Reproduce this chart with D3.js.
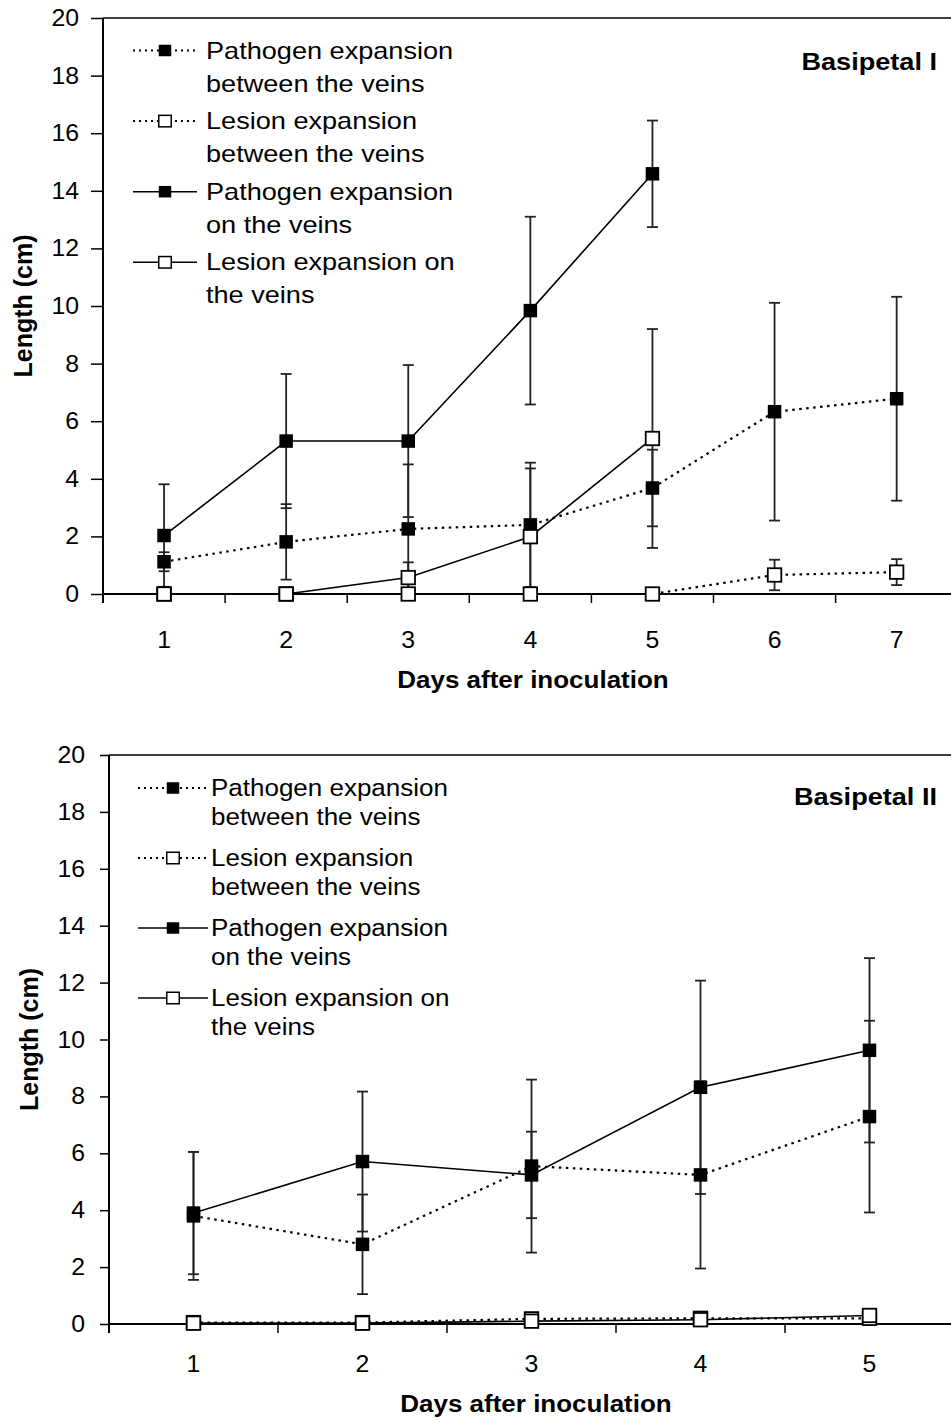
<!DOCTYPE html>
<html>
<head>
<meta charset="utf-8">
<script src="https://cdn.jsdelivr.net/npm/d3@7"></script>
<style>
  html, body { margin: 0; padding: 0; background: #fff; }
  svg { display: block; font-family: "Liberation Sans", Arial, sans-serif; }
</style>
</head>
<body>
<svg id="chart" width="951" height="1422"></svg>
<script>
// ---- Basipetal I ----
const daysI = [1, 2, 3, 4, 5, 6, 7];
const pathogenBetweenI    = [1.12, 1.81, 2.26, 2.40, 3.68, 6.33, 6.78];
const pathogenBetweenErrI = [0.33, 1.31, 2.24, 2.16, 1.33, 3.78, 3.54];
const lesionBetweenI      = [0, 0, 0, 0, 0, 0.66, 0.76];
const lesionBetweenErrI   = [0, 0, 0, 0, 0, 0.53, 0.45];
const pathogenVeinsI      = [2.03, 5.31, 5.31, 9.84, 14.59];
const pathogenVeinsErrI   = [1.78, 2.33, 2.64, 3.26, 1.85];
const lesionVeinsI        = [0, 0, 0.57, 1.99, 5.40];
const lesionVeinsErrI     = [0, 0, 0.53, 2.37, 3.80];

// ---- Basipetal II ----
const daysII = [1, 2, 3, 4, 5];
const pathogenBetweenII    = [3.80, 2.80, 5.55, 5.24, 7.29];
const pathogenBetweenErrII = [2.25, 1.75, 3.04, 3.29, 3.37];
const lesionBetweenII      = [0.05, 0.05, 0.18, 0.20, 0.20];
const lesionBetweenErrII   = [0, 0, 0, 0, 0];
const pathogenVeinsII      = [3.90, 5.71, 5.24, 8.32, 9.62];
const pathogenVeinsErrII   = [2.15, 2.46, 1.52, 3.75, 3.24];
const lesionVeinsII        = [0.03, 0.03, 0.10, 0.15, 0.30];
const lesionVeinsErrII     = [0, 0, 0, 0, 0];

const yTicks = [0, 2, 4, 6, 8, 10, 12, 14, 16, 18, 20];
const legendLabels = [
  ["Pathogen expansion", "between the veins"],
  ["Lesion expansion", "between the veins"],
  ["Pathogen expansion", "on the veins"],
  ["Lesion expansion on", "the veins"]
];
const legendStyles = [
  { dotted: true,  filled: true },
  { dotted: true,  filled: false },
  { dotted: false, filled: true },
  { dotted: false, filled: false }
];
const xTitle = "Days after inoculation";
const yTitle = "Length (cm)";

const svg = d3.select("#chart");
const SX = 1.13; // horizontal text stretch

function stretchedText(g, x, y, str, opts) {
  return g.append("text")
    .attr("transform", `translate(${x},${y}) scale(${opts.sx || SX},1)`)
    .attr("font-size", opts.size)
    .attr("font-weight", opts.bold ? "bold" : "normal")
    .attr("text-anchor", opts.anchor || "start")
    .attr("fill", "#000")
    .text(str);
}

function drawPanel(cfg) {
  const g = svg.append("g");
  const x = d3.scaleBand().domain(cfg.days).range([cfg.left, cfg.left + cfg.band * cfg.days.length]);
  const y = d3.scaleLinear().domain([0, 20]).range([cfg.bottom, cfg.top]);
  const cx = d => x(d) + x.bandwidth() / 2;

  const clipId = "clip" + cfg.id;
  svg.append("clipPath").attr("id", clipId)
    .append("rect").attr("x", cfg.left).attr("y", cfg.top - 20)
    .attr("width", 951 - cfg.left).attr("height", cfg.bottom - cfg.top + 20);

  // plot border (top edge)
  g.append("line").attr("x1", cfg.left).attr("x2", 951)
    .attr("y1", cfg.top).attr("y2", cfg.top)
    .attr("stroke", "#000").attr("stroke-width", 1.5);

  // y axis
  const yAxis = d3.axisLeft(y).tickValues(yTicks).tickSize(cfg.yTick).tickFormat(d3.format("d"));
  const ya = g.append("g").attr("transform", `translate(${cfg.left},0)`).call(yAxis);
  ya.select(".domain").attr("stroke", "#000").attr("stroke-width", 2)
    .attr("d", `M0,${cfg.top}V${cfg.bottom + cfg.xTick}`);
  ya.selectAll(".tick line").attr("stroke", "#000").attr("stroke-width", 1.5);
  ya.selectAll(".tick text").remove();
  yTicks.forEach(v => {
    stretchedText(g, cfg.yLabelRight, y(v) + 8, String(v), { size: 23, anchor: "end", sx: 1.08 });
  });

  // x axis (ticks at band boundaries)
  g.append("line").attr("x1", cfg.left).attr("x2", 951)
    .attr("y1", cfg.bottom).attr("y2", cfg.bottom)
    .attr("stroke", "#000").attr("stroke-width", 2);
  const bounds = cfg.days.map(d => x(d)).concat([x(cfg.days[cfg.days.length - 1]) + x.bandwidth()]);
  g.selectAll(".xtick").data(bounds).join("line")
    .attr("x1", d => d).attr("x2", d => d)
    .attr("y1", cfg.bottom).attr("y2", cfg.bottom + cfg.xTick)
    .attr("stroke", "#000").attr("stroke-width", 1.5);
  cfg.days.forEach(d => {
    stretchedText(g, cx(d), cfg.xLabelY, String(d), { size: 23, anchor: "middle", sx: 1.08 });
  });

  // axis titles
  stretchedText(g, (cfg.left + 951) / 2 + 6, cfg.xTitleY, xTitle, { size: 23, bold: true, anchor: "middle" });
  g.append("text")
    .attr("transform", `translate(${cfg.yTitleX},${(cfg.top + cfg.bottom) / 2}) rotate(-90) scale(1,1.05)`)
    .attr("font-size", 25).attr("font-weight", "bold").attr("text-anchor", "middle")
    .text(yTitle);

  // panel name
  stretchedText(g, 937, cfg.nameY, cfg.name, { size: 24, bold: true, anchor: "end" });

  // series
  const plot = g.append("g").attr("clip-path", `url(#${clipId})`);
  const line = d3.line().x(d => cx(d.day)).y(d => y(d.v));
  const MS = 13.5;

  cfg.series.forEach(s => {
    const pts = s.values.map((v, i) => ({ day: cfg.days[i], v, e: s.errs[i] }));
    plot.append("path").datum(pts)
      .attr("d", line).attr("fill", "none").attr("stroke", "#000")
      .attr("stroke-width", s.dotted ? 2.2 : 1.6)
      .attr("stroke-dasharray", s.dotted ? "2.5,4.5" : null);

    const eb = plot.append("g").attr("stroke", "#222").attr("stroke-width", 1.8);
    pts.filter(p => p.e > 0).forEach(p => {
      const xx = cx(p.day), y1 = y(p.v + p.e), y0 = y(p.v - p.e);
      eb.append("line").attr("x1", xx).attr("x2", xx).attr("y1", y1).attr("y2", y0);
      eb.append("line").attr("x1", xx - 5.5).attr("x2", xx + 5.5).attr("y1", y1).attr("y2", y1);
      eb.append("line").attr("x1", xx - 5.5).attr("x2", xx + 5.5).attr("y1", y0).attr("y2", y0);
    });

    g.selectAll(null).data(pts).join("rect")
      .attr("x", d => cx(d.day) - MS / 2).attr("y", d => y(d.v) - MS / 2)
      .attr("width", MS).attr("height", MS)
      .attr("fill", s.filled ? "#000" : "#fff")
      .attr("stroke", "#000").attr("stroke-width", s.filled ? 0 : 1.8);
  });

  // legend
  legendLabels.forEach((lab, i) => {
    const st = legendStyles[i];
    const my = cfg.legend.y0 + i * cfg.legend.step;
    g.append("line").attr("x1", cfg.legend.x1).attr("x2", cfg.legend.x2)
      .attr("y1", my).attr("y2", my).attr("stroke", "#000")
      .attr("stroke-width", st.dotted ? 2 : 1.5)
      .attr("stroke-dasharray", st.dotted ? "2,4" : null);
    const mx = (cfg.legend.x1 + cfg.legend.x2) / 2;
    const lw = 12.5, lh = 11.5;
    g.append("rect").attr("x", mx - lw / 2).attr("y", my - lh / 2)
      .attr("width", lw).attr("height", lh)
      .attr("fill", st.filled ? "#000" : "#fff")
      .attr("stroke", "#000").attr("stroke-width", st.filled ? 0 : 1.5);
    stretchedText(g, cfg.legend.tx, my + 8, lab[0], { size: cfg.legend.size });
    stretchedText(g, cfg.legend.tx, my + 8 + cfg.legend.lh, lab[1], { size: cfg.legend.size });
  });
}

drawPanel({
  id: "I", name: "Basipetal I", nameY: 70,
  days: daysI, left: 103, band: 122.1, top: 18, bottom: 594,
  yTick: 12, xTick: 9, yLabelRight: 79, xLabelY: 648, xTitleY: 688, yTitleX: 32,
  legend: { x1: 133, x2: 197, tx: 206, y0: 50.5, step: 70.6, lh: 33, size: 24 },
  series: [
    { values: pathogenBetweenI, errs: pathogenBetweenErrI, dotted: true,  filled: true },
    { values: lesionBetweenI,   errs: lesionBetweenErrI,   dotted: true,  filled: false },
    { values: pathogenVeinsI,   errs: pathogenVeinsErrI,   dotted: false, filled: true },
    { values: lesionVeinsI,     errs: lesionVeinsErrI,     dotted: false, filled: false }
  ]
});

drawPanel({
  id: "II", name: "Basipetal II", nameY: 805,
  days: daysII, left: 109, band: 169, top: 755, bottom: 1324,
  yTick: 9, xTick: 9, yLabelRight: 85, xLabelY: 1372, xTitleY: 1412, yTitleX: 38,
  legend: { x1: 138, x2: 208, tx: 211, y0: 788, step: 70, lh: 28.5, size: 23 },
  series: [
    { values: pathogenBetweenII, errs: pathogenBetweenErrII, dotted: true,  filled: true },
    { values: lesionBetweenII,   errs: lesionBetweenErrII,   dotted: true,  filled: false },
    { values: pathogenVeinsII,   errs: pathogenVeinsErrII,   dotted: false, filled: true },
    { values: lesionVeinsII,     errs: lesionVeinsErrII,     dotted: false, filled: false }
  ]
});
</script>
</body>
</html>
